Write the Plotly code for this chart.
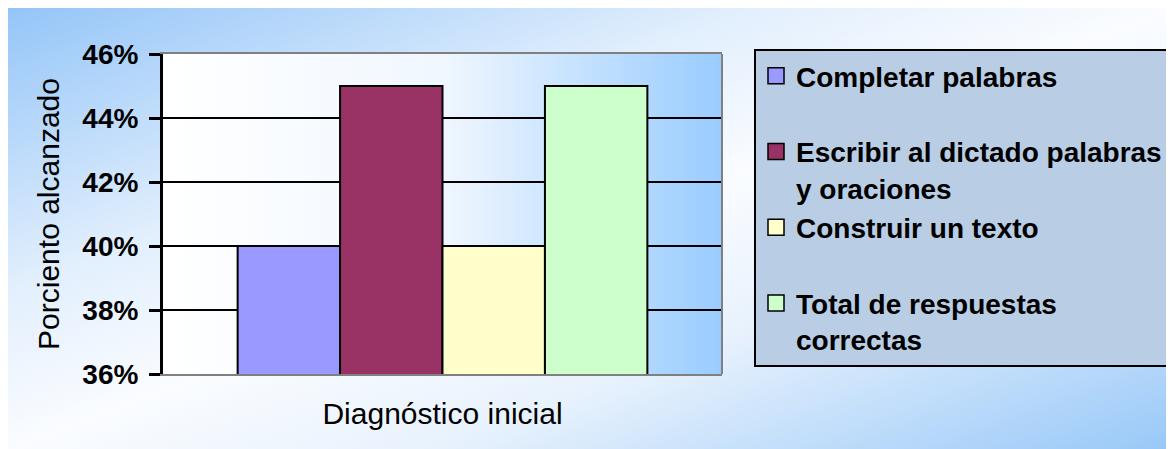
import base64
import plotly.graph_objects as go

# ---- data ----
categories = ["Diagnóstico inicial"]
series_names = [
    "Completar palabras",
    "Escribir al dictado palabras<br>y oraciones",
    "Construir un texto",
    "Total de respuestas<br>correctas",
]
series_values = [[0.40], [0.45], [0.40], [0.45]]
series_colors = ["#9999ff", "#993366", "#ffffcc", "#ccffcc"]
y_title = "Porciento alcanzado"

# page body has an 8px margin, so figure coords are shifted by 8px
W, H = 1166, 441
L, T = 155, 46
PW, PH = 559, 320
R, B = W - L - PW, H - T - PH

FONT = "Liberation Sans, Arial, sans-serif"


def svg_uri(svg):
    return "data:image/svg+xml;base64," + base64.b64encode(svg.encode()).decode()


page_svg = (
    '<svg xmlns="http://www.w3.org/2000/svg" width="1166" height="441" '
    'preserveAspectRatio="none" viewBox="0 0 1166 441">'
    '<defs><linearGradient id="g" x1="0" y1="0" x2="1" y2="1">'
    '<stop offset="0" stop-color="#94c5f8"/>'
    '<stop offset="0.32" stop-color="#e2effd"/>'
    '<stop offset="0.5" stop-color="#fafcff"/>'
    '<stop offset="0.68" stop-color="#e8f2fd"/>'
    '<stop offset="1" stop-color="#98c8f8"/>'
    '</linearGradient></defs>'
    '<rect width="1166" height="441" fill="url(#g)"/></svg>'
)
plot_svg = (
    '<svg xmlns="http://www.w3.org/2000/svg" width="559" height="320" '
    'preserveAspectRatio="none" viewBox="0 0 559 320">'
    '<defs><linearGradient id="p" x1="0" y1="0" x2="1" y2="0">'
    '<stop offset="0" stop-color="#ffffff"/>'
    '<stop offset="0.5" stop-color="#f0f7ff"/>'
    '<stop offset="1" stop-color="#99ccff"/>'
    '</linearGradient></defs>'
    '<rect width="559" height="320" fill="url(#p)"/></svg>'
)

fig = go.Figure()
for name, vals, col in zip(series_names, series_values, series_colors):
    fig.add_trace(go.Bar(
        x=categories, y=vals, name=name, showlegend=False,
        marker=dict(color=col, line=dict(color="black", width=2)),
    ))
# legend entries
for i, (name, col) in enumerate(zip(series_names, series_colors)):
    label = name if "<br>" in name else name + "<br> "
    fig.add_trace(go.Scatter(
        x=[None], y=[None], mode="markers", name=label, legendgroup=f"g{i}",
        marker=dict(symbol="square", size=16, color=col,
                    line=dict(color="black", width=1.5)),
    ))

fig.update_layout(
    width=W, height=H,
    margin=dict(l=L, r=R, t=T, b=B, autoexpand=False),
    paper_bgcolor="white",
    plot_bgcolor="rgba(0,0,0,0)",
    barmode="group",
    bargap=0.267,
    bargroupgap=0,
    font=dict(family=FONT, color="black"),
    showlegend=True,
    legend=dict(
        x=(746 - L) / PW, y=(T + PH - 41) / PH,
        xanchor="left", yanchor="top",
        bgcolor="#b9cde5", bordercolor="black", borderwidth=2,
        font=dict(family=FONT, size=28, weight="bold", color="black"),
        valign="top", tracegroupgap=0, maxheight=420,
    ),
    xaxis=dict(
        type="category", showgrid=False,
        showline=True, linecolor="#808080", linewidth=2, mirror=True,
        ticks="", tickfont=dict(family=FONT, size=30),
        ticklabelstandoff=12,
    ),
    yaxis=dict(
        range=[0.36, 0.46], dtick=0.02, tickformat=".0%",
        showgrid=True, gridcolor="black", gridwidth=1.5,
        showline=True, linecolor="black", linewidth=3,
        ticks="outside", ticklen=11, tickwidth=3, tickcolor="black",
        tickfont=dict(family=FONT, size=28, weight="bold"),
        ticklabelstandoff=5,
        title=dict(text=y_title, font=dict(family=FONT, size=30), standoff=14),
        zeroline=False,
    ),
    images=[
        dict(source=svg_uri(page_svg), xref="paper", yref="paper",
             x=-L / PW, y=(T + PH) / PH,
             sizex=W / PW, sizey=H / PH,
             xanchor="left", yanchor="top", sizing="stretch", layer="below"),
        dict(source=svg_uri(plot_svg), xref="paper", yref="paper",
             x=0, y=1, sizex=1, sizey=1,
             xanchor="left", yanchor="top", sizing="stretch", layer="below"),
    ],
    shapes=[
        dict(type="line", xref="paper", yref="paper", x0=1, x1=1, y0=0, y1=1,
             line=dict(color="#808080", width=2)),
    ],
)

fig.write_html("out.html")
